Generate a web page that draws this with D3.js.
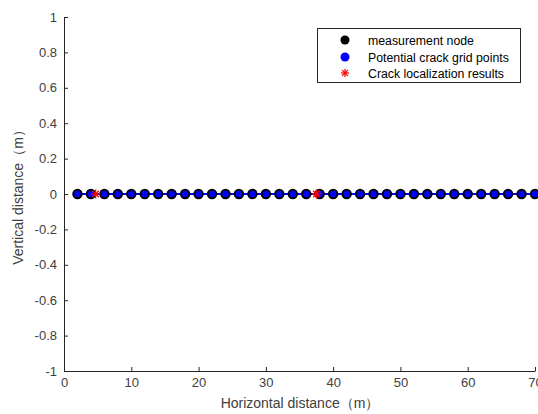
<!DOCTYPE html>
<html><head><meta charset="utf-8">
<script src="https://cdn.jsdelivr.net/npm/d3@7"></script>
<style>body{margin:0;background:#fff}svg{display:block}text{font-family:"Liberation Sans",Arial,sans-serif}</style>
</head><body><svg id="c" width="538" height="414"></svg>
<script>
const nodeX = [2,4,6,8,10,12,14,16,18,20,22,24,26,28,30,32,34,36,38,40,42,44,46,48,50,52,54,56,58,60,62,64,66,68,70];
const gridX = [2,4,6,8,10,12,14,16,18,20,22,24,26,28,30,32,34,36,38,40,42,44,46,48,50,52,54,56,58,60,62,64,66,68,70];
const crackX = [4.7,37.5];
const xTicks = [0,10,20,30,40,50,60,70];
const yTicks = [-1,-0.8,-0.6,-0.4,-0.2,0,0.2,0.4,0.6,0.8,1];
const legendLabels = ["measurement node","Potential crack grid points","Crack localization results"];

const svg = d3.select("#c");
const x = d3.scaleLinear().domain([0,70]).range([64,535]);
const y = d3.scaleLinear().domain([-1,1]).range([371,17]);
const txt = "#404040", ax = "#262626";

const gx = svg.append("g").attr("transform",`translate(0,${y(-1)})`)
  .call(d3.axisBottom(x).tickValues(xTicks).tickFormat(d=>String(d)).tickSizeInner(-4).tickSizeOuter(0).tickPadding(7));
const gy = svg.append("g").attr("transform",`translate(${x(0)},0)`)
  .call(d3.axisLeft(y).tickValues(yTicks).tickFormat(d=>String(d)).tickSizeInner(-4).tickSizeOuter(0).tickPadding(7));
[gx,gy].forEach(g=>{
  g.select(".domain").attr("stroke",ax).attr("stroke-width",1);
  g.selectAll(".tick line").attr("stroke",ax);
  g.selectAll(".tick text").attr("fill",txt).style("font-size","13px");
});

svg.append("text").attr("x",300).attr("y",408).attr("text-anchor","middle")
  .attr("fill",txt).style("font-size","14px").text("Horizontal distance（m）");
svg.append("text").attr("transform",`translate(23,${y(0)}) rotate(-90)`).attr("text-anchor","middle")
  .attr("fill",txt).style("font-size","14px").text("Vertical distance（m）");

// connecting blue line
svg.append("line").attr("x1",x(d3.min(gridX))).attr("x2",x(d3.max(gridX)))
  .attr("y1",y(0)).attr("y2",y(0)).attr("stroke","#0000ff").attr("stroke-width",2);
svg.append("g").selectAll("circle").data(nodeX).join("circle")
  .attr("cx",d=>x(d)).attr("cy",y(0)).attr("r",5.2).attr("fill","#000");
svg.append("g").selectAll("circle").data(gridX).join("circle")
  .attr("cx",d=>x(d)).attr("cy",y(0)).attr("r",3.2).attr("fill","#0000ff");

function star(g,cx,cy,s){
  const p = g.append("g").attr("transform",`translate(${cx},${cy})`).attr("stroke","#ff0000").attr("stroke-width",1.3);
  p.append("line").attr("x1",-s).attr("x2",s).attr("y1",0).attr("y2",0);
  p.append("line").attr("x1",0).attr("x2",0).attr("y1",-s).attr("y2",s);
  const d=s*0.72;
  p.append("line").attr("x1",-d).attr("x2",d).attr("y1",-d).attr("y2",d);
  p.append("line").attr("x1",-d).attr("x2",d).attr("y1",d).attr("y2",-d);
}
crackX.forEach(c=>star(svg,x(c),y(0),4.5));

// legend
const lg = svg.append("g");
lg.append("rect").attr("x",317.5).attr("y",28.5).attr("width",203).attr("height",54)
  .attr("fill","#fff").attr("stroke",ax).attr("stroke-width",1);
const ly = [40,57,73];
lg.append("circle").attr("cx",345).attr("cy",ly[0]).attr("r",4.5).attr("fill","#000");
lg.append("circle").attr("cx",345).attr("cy",ly[1]).attr("r",4.5).attr("fill","#0000ff");
star(lg,345,ly[2],4);
legendLabels.forEach((t,i)=>lg.append("text").attr("x",368).attr("y",ly[i]+4.5)
  .attr("fill","#000").style("font-size","12.3px").text(t));
</script></body></html>
